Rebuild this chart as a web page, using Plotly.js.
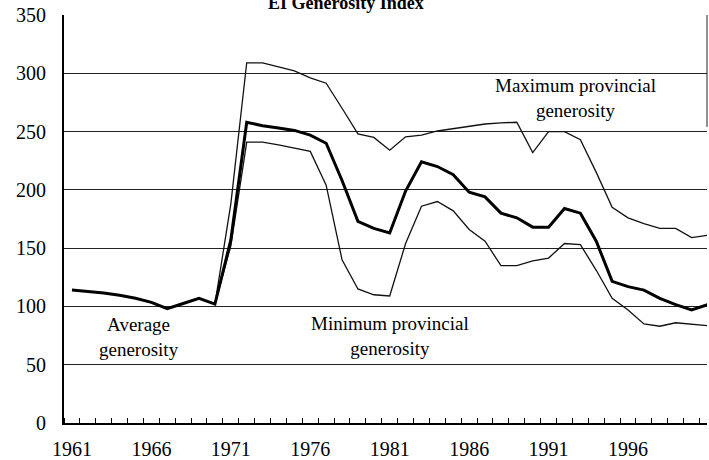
<!DOCTYPE html>
<html>
<head>
<meta charset="utf-8">
<script src="https://cdn.plot.ly/plotly-3.0.1.min.js"></script>
<style>
  html, body { margin: 0; padding: 0; background: #fff; }
  #chart { width: 709px; height: 460px; }
</style>
</head>
<body>
<div id="chart"></div>
<script>
const years = [1961,1962,1963,1964,1965,1966,1967,1968,1969,1970,
               1971,1972,1973,1974,1975,1976,1977,1978,1979,1980,
               1981,1982,1983,1984,1985,1986,1987,1988,1989,1990,
               1991,1992,1993,1994,1995,1996,1997,1998,1999,2000,2001];

const averageGenerosity = [114,113,111.5,109.5,107,103.5,98,102.5,107,102,
                           157,258,255,253,251,247,240,208,173,167,
                           163,199,224,220,213,198,194,180,176,168,
                           168,184,180,156,121.5,117,114,107,101.5,97,101.5];

const maxProvincial = [null,null,null,null,null,null,null,null,null,102,
                       188,309,309,305.5,302,296,291.5,270,248,245,
                       234,245.5,247,250.5,252.5,254,256.5,257.5,258,232,
                       250,250,243,215,185,176,171,167,167,159,161];

const minProvincial = [null,null,null,null,null,null,null,null,null,102,
                       152,241,241,238.5,236,233,204,140,115,110,
                       109,154,186,190,182,166,156,135,135,139,
                       141.5,154,153,131,107,97,85,83,86,84.5,83.5];

const tickYears = [1961,1966,1971,1976,1981,1986,1991,1996];
const tickLabels = ["1961","1966","1971","1976","1981","1986","1991","1996"];
const yTicks = [0,50,100,150,200,250,300,350];

const serif = "Liberation Serif, Times New Roman, serif";

const traces = [
  {x: years, y: maxProvincial, type: 'scatter', mode: 'lines',
   line: {color: '#111', width: 1.3}, connectgaps: false, hoverinfo: 'skip'},
  {x: years, y: minProvincial, type: 'scatter', mode: 'lines',
   line: {color: '#111', width: 1.3}, connectgaps: false, hoverinfo: 'skip'},
  {x: years, y: averageGenerosity, type: 'scatter', mode: 'lines',
   line: {color: '#000', width: 3}, hoverinfo: 'skip'}
];

const layout = {
  width: 709, height: 460,
  margin: {l: 64, r: 2, t: 15, b: 36.5, pad: 0},
  paper_bgcolor: '#fff', plot_bgcolor: '#fff',
  showlegend: false,
  font: {family: serif, size: 19, color: '#000'},
  xaxis: {
    range: [1960.5, 2000.97],
    tickmode: 'array', tickvals: tickYears, ticktext: tickLabels,
    ticks: '', showgrid: false, zeroline: false,
    showline: true, linecolor: '#000', linewidth: 1.5,
    ticklabelstandoff: 7,
    tickfont: {family: serif, size: 20, color: '#000'},
    minor: {tickmode: 'linear', tick0: 1960.5, dtick: 1, ticks: 'inside',
            ticklen: 5, tickwidth: 1, tickcolor: '#000', showgrid: false}
  },
  yaxis: {
    range: [0, 350],
    tickmode: 'array', tickvals: yTicks,
    ticks: '', showgrid: true, gridcolor: '#222', gridwidth: 1,
    zeroline: false,
    showline: true, linecolor: '#000', linewidth: 2,
    ticklabelstandoff: 12,
    tickfont: {family: serif, size: 20, color: '#000'}
  },
  shapes: [
    {type: 'line', xref: 'paper', yref: 'y', x0: 1, x1: 1, y0: 254, y1: 350,
     line: {color: '#222', width: 1}}
  ],
  annotations: [
    {text: '<b>EI Generosity Index</b>', xref: 'paper', yref: 'paper',
     x: 0.4386, y: 1.0, xanchor: 'center', yanchor: 'bottom', showarrow: false,
     font: {family: serif, size: 18, color: '#000'}},
    {text: 'Maximum provincial<br>generosity', xref: 'x', yref: 'y',
     x: 1992.72, y: 279, xanchor: 'center', yanchor: 'middle', showarrow: false,
     font: {family: serif, size: 19, color: '#000'}},
    {text: 'Average<br>generosity', xref: 'x', yref: 'y',
     x: 1965.22, y: 74, xanchor: 'center', yanchor: 'middle', showarrow: false,
     font: {family: serif, size: 19, color: '#000'}},
    {text: 'Minimum provincial<br>generosity', xref: 'x', yref: 'y',
     x: 1981.02, y: 75, xanchor: 'center', yanchor: 'middle', showarrow: false,
     font: {family: serif, size: 19, color: '#000'}}
  ]
};

Plotly.newPlot('chart', traces, layout, {staticPlot: true, displayModeBar: false});
</script>
</body>
</html>
